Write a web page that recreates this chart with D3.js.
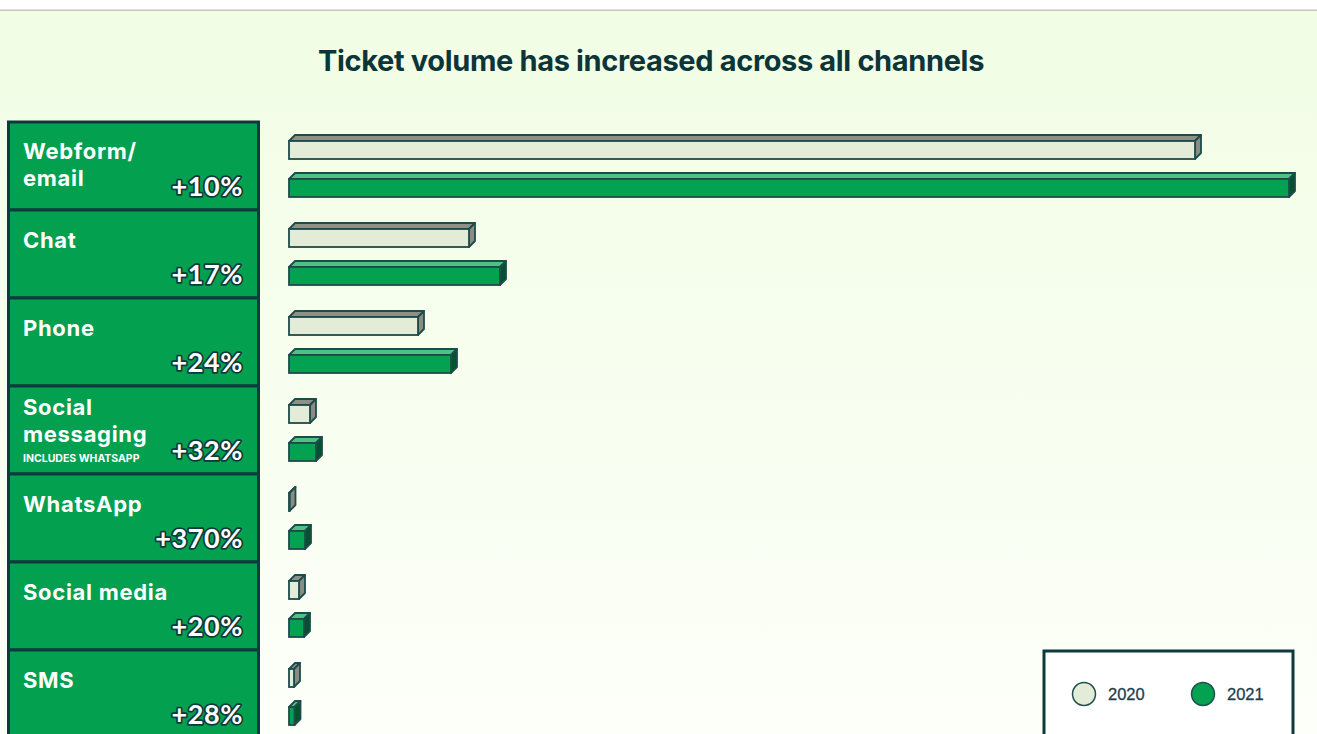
<!DOCTYPE html>
<html><head><meta charset="utf-8">
<script src="https://cdn.jsdelivr.net/npm/d3@7"></script>
<style>
html,body{margin:0;padding:0;background:#fff;}
svg{display:block;}
</style></head>
<body>
<script>
// ---- data ----
const categories = ["Webform/email","Chat","Phone","Social messaging","WhatsApp","Social media","SMS"];
const labelLines = [["Webform/","email"],["Chat"],["Phone"],["Social","messaging"],["WhatsApp"],["Social media"],["SMS"]];
const labelNotes = ["","","","INCLUDES WHATSAPP","","",""];
const changeLabels = ["+10%","+17%","+24%","+32%","+370%","+20%","+28%"];
const years = ["2020","2021"];
const values2020 = [906,180,129,21,0.5,10,5];
const values2021 = [1000,211,162,27,16,15,5.5];

const W = 1317, H = 734;
const svg = d3.select("body").append("svg").attr("width", W).attr("height", H);
const defs = svg.append("defs");
const grad = defs.append("linearGradient").attr("id","bg").attr("x1",0).attr("y1",0).attr("x2",0).attr("y2",1);
grad.append("stop").attr("offset","0%").attr("stop-color","#f1fde4");
grad.append("stop").attr("offset","100%").attr("stop-color","#fdfff9");

svg.append("rect").attr("x",0).attr("y",0).attr("width",W).attr("height",H).attr("fill","#fff");
svg.append("rect").attr("x",0).attr("y",11).attr("width",W).attr("height",H-11).attr("fill","url(#bg)");
svg.append("rect").attr("x",0).attr("y",9.5).attr("width",W).attr("height",1.5).attr("fill","#c4c6c2");

svg.append("text").attr("x",651).attr("y",71).attr("text-anchor","middle")
  .attr("font-family","Inter, 'Open Sans', sans-serif").attr("font-weight",700)
  .attr("font-size",29).attr("letter-spacing","-0.35").attr("fill","#0b3538")
  .text("Ticket volume has increased across all channels");

// scales
const y = d3.scaleBand().domain(categories).range([122, 738]).padding(0);
const yInner = d3.scaleBand().domain(years).range([19, 75]).paddingInner(20/38).paddingOuter(0);
const x = d3.scaleLinear().domain([0, 1000]).range([289, 1289]);

// label panel
const panel = svg.append("g");
categories.forEach((c,i)=>{
  const g = panel.append("g").attr("transform",`translate(0,${y(c)})`);
  g.append("rect").attr("x",8.5).attr("y",0).attr("width",250).attr("height",y.bandwidth())
    .attr("fill","#02a04f").attr("stroke","#0c3a3d").attr("stroke-width",3);
  const lines = labelLines[i];
  const firstBase = lines.length>1 ? (labelNotes[i] ? 29 : 37) : 38;
  lines.forEach((s,j)=>{
    g.append("text").attr("x",23).attr("y",firstBase + j*27)
      .attr("font-family","Inter, 'Open Sans', sans-serif").attr("font-weight",700)
      .attr("font-size",22).attr("letter-spacing","0.7").attr("fill","#fff").text(s);
  });
  if (labelNotes[i]) {
    g.append("text").attr("x",23).attr("y",76)
      .attr("font-family","Inter, 'Open Sans', sans-serif").attr("font-weight",700)
      .attr("font-size",10.5).attr("fill","#fff").text(labelNotes[i]);
  }
  g.append("text").attr("x",243).attr("y",74).attr("text-anchor","end")
    .attr("font-family","Lato, 'Open Sans', sans-serif").attr("font-weight",700)
    .attr("font-size",27).attr("letter-spacing","0.6").attr("fill","#fff")
    .attr("stroke","#0c3a3d").attr("stroke-width",3.5).attr("paint-order","stroke")
    .attr("stroke-linejoin","round").text(changeLabels[i]);
});

// 3D bars
const depthX = 6, depthY = 6, bh = yInner.bandwidth();
const styles = {
  "2020": {front:"#e3ecd6", top:"#8c9087", side:"#888c83"},
  "2021": {front:"#02a250", top:"#4cc284", side:"#02532c"}
};
const stroke = "#1d4c4b";
const barData = [];
categories.forEach((c,i)=>{
  barData.push({cat:c, year:"2020", v:values2020[i]});
  barData.push({cat:c, year:"2021", v:values2021[i]});
});
const bars = svg.append("g").selectAll("g").data(barData).join("g");
bars.each(function(d){
  const g = d3.select(this);
  const x0 = x(0), x1 = x(d.v);
  const y0 = y(d.cat) + yInner(d.year), y1 = y0 + bh;
  const s = styles[d.year];
  g.append("path").attr("d",`M${x0},${y0}L${x0+depthX},${y0-depthY}L${x1+depthX},${y0-depthY}L${x1},${y0}Z`)
    .attr("fill",s.top).attr("stroke",stroke).attr("stroke-width",1.8).attr("stroke-linejoin","round");
  g.append("path").attr("d",`M${x1},${y0}L${x1+depthX},${y0-depthY}L${x1+depthX},${y1-depthY}L${x1},${y1}Z`)
    .attr("fill",s.side).attr("stroke",stroke).attr("stroke-width",1.8).attr("stroke-linejoin","round");
  g.append("rect").attr("x",x0).attr("y",y0).attr("width",Math.max(0,x1-x0)).attr("height",bh)
    .attr("fill",s.front).attr("stroke",stroke).attr("stroke-width",1.8);
});

// legend
const lg = svg.append("g");
lg.append("rect").attr("x",1044).attr("y",651).attr("width",249).attr("height",100)
  .attr("fill","#fff").attr("stroke","#0c3a3d").attr("stroke-width",3);
const legX = d3.scaleOrdinal().domain(years).range([1084, 1203]);
years.forEach(yr=>{
  lg.append("circle").attr("cx",legX(yr)).attr("cy",694).attr("r",11.5)
    .attr("fill",styles[yr].front).attr("stroke","#20504f").attr("stroke-width",1.5);
  lg.append("text").attr("x",legX(yr)+24).attr("y",700)
    .attr("font-family","'Liberation Sans', Arial, sans-serif").attr("font-size",16.5)
    .attr("fill","#1d3f4f").attr("stroke","#1d3f4f").attr("stroke-width",0.3).text(yr);
});
</script>
</body></html>
